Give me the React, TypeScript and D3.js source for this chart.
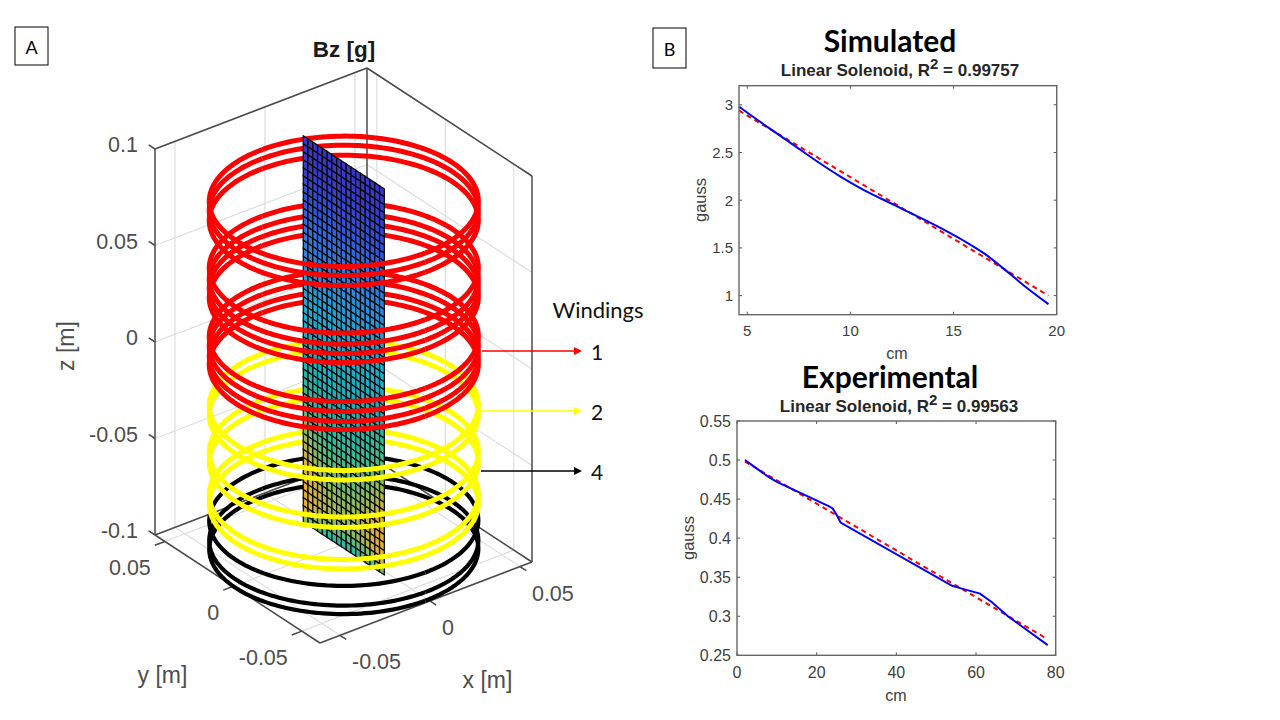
import React, { useEffect, useRef } from 'react';
import * as d3 from 'd3';

// panel A: 3D view of the windings
const xTicks3d = [-0.05, 0, 0.05];
const yTicks3d = [-0.05, 0, 0.05];
const zTicks3d = [-0.1, -0.05, 0, 0.05, 0.1];
const xLimits = [-0.0611, 0.0567];
const yLimits = [-0.0633, 0.0572];
const zLimits = [-0.1, 0.1];

const ringRadius = 0.0595;
const ringCenter = [-0.002, -0.003];
const redTurns = [0.0798, 0.0751, 0.0699, 0.0453, 0.0396, 0.0347, 0.03, 0.0098, 0.0047, -0.0005, -0.0047];
const yellowTurns = [-0.0259, -0.0308, -0.05, -0.0554, -0.072, -0.0769];
const blackTurns = [-0.0857, -0.0959, -0.1003];

// field on the plate, normalised 0..1, read top row to bottom row
const plateRows = [
  0.02, 0.03, 0.04, 0.05, 0.06, 0.08, 0.1, 0.12, 0.14, 0.17, 0.2, 0.22,
  0.24, 0.26, 0.28, 0.3, 0.32, 0.34, 0.36, 0.38, 0.4, 0.42, 0.43, 0.45,
  0.46, 0.47, 0.49, 0.5, 0.52, 0.53, 0.55, 0.57, 0.58, 0.6, 0.61, 0.63,
  0.65, 0.67, 0.69, 0.71, 0.73, 0.75, 0.77, 0.78, 0.78, 0.76, 0.7, 0.62,
];
// how much hotter the plate edges are than its centre, per row
const plateEdgeGain = [
  0, 0, 0, 0, 0, 0, 0, 0, 0, 0, 0, 0,
  0.01, 0.01, 0.01, 0.01, 0.01, 0.02, 0.02, 0.02, 0.02, 0.02, 0.03, 0.03,
  0.03, 0.03, 0.04, 0.04, 0.05, 0.05, 0.06, 0.06, 0.07, 0.08, 0.09, 0.1,
  0.11, 0.12, 0.13, 0.14, 0.15, 0.16, 0.17, 0.18, 0.18, 0.18, 0.16, 0.14,
];
const plateColumns = [1, 0.8, 0.55, 0.35, 0.2, 0.1, 0.04, 0, 0, 0, 0.04, 0.1, 0.2, 0.35, 0.55, 0.8, 1];
const plateHalfWidth = 0.0296;
const fieldStops = ['#3a2fc4', '#2f5ae0', '#2e86e0', '#1fa8d6', '#1db2b8', '#3fba90', '#88bc62', '#cfb048', '#f5a92e'];
const fieldDomain = [0, 0.15, 0.3, 0.42, 0.55, 0.66, 0.76, 0.86, 1];

// panel B top: simulated
const simCm = [4.6, 5.5, 6.5, 7.5, 8.5, 9.5, 10.5, 11.5, 12.5, 13.5, 14.5, 15.5, 16.5, 17.5, 18.5, 19.6];
const simGauss = [2.98, 2.84, 2.69, 2.54, 2.39, 2.25, 2.125, 2.015, 1.91, 1.805, 1.695, 1.575, 1.44, 1.27, 1.09, 0.91];
const simFitCm = [4.6, 19.6];
const simFitGauss = [2.94, 1.0];
const simXTicks = [5, 10, 15, 20];
const simYTicks = [1, 1.5, 2, 2.5, 3];

// panel B bottom: experimental
const expCm = [2, 5, 8, 10, 23, 24, 25, 26, 54, 56, 61, 64, 68, 78];
const expGauss = [0.5, 0.489, 0.478, 0.472, 0.441, 0.438, 0.43, 0.42, 0.339, 0.336, 0.329, 0.318, 0.3, 0.263];
const expFitCm = [2, 78];
const expFitGauss = [0.498, 0.2705];
const expXTicks = [0, 20, 40, 60, 80];
const expYTicks = [0.25, 0.3, 0.35, 0.4, 0.45, 0.5, 0.55];

const windingLabels = [
  { label: '1', color: '#ff0000', y: 351, x0: 482 },
  { label: '2', color: '#ffff00', y: 411, x0: 482 },
  { label: '4', color: '#000000', y: 471, x0: 481 },
];

const sans = '"Liberation Sans", Arial, sans-serif';
const calibri = 'Lato, "Open Sans", sans-serif';
const tick3d = (t) => d3.format('.2~f')(t).replace('\u2212', '-');

function drawPanelA(svg) {
  // box corners on screen
  const L = [155, 535];
  const F = [320, 643];
  const R = [532, 562];
  const zHeight = 386;

  const fx = d3.scaleLinear().domain(xLimits).range([0, 1]);
  const fy = d3.scaleLinear().domain([yLimits[1], yLimits[0]]).range([0, 1]);
  const pz = d3.scaleLinear().domain(zLimits).range([0, -zHeight]);

  const project = (x, y, z) => [
    L[0] + fy(y) * (F[0] - L[0]) + fx(x) * (R[0] - F[0]),
    L[1] + fy(y) * (F[1] - L[1]) + fx(x) * (R[1] - F[1]) + pz(z),
  ];

  const [x0, x1] = xLimits;
  const [y0, y1] = yLimits;
  const [z0, z1] = zLimits;
  const seg = (g, a, b, color, w) =>
    g.append('line').attr('x1', a[0]).attr('y1', a[1]).attr('x2', b[0]).attr('y2', b[1])
      .attr('stroke', color).attr('stroke-width', w);

  // grid on the two back walls and the floor
  const grid = svg.append('g');
  const gridColor = '#dddddd';
  xTicks3d.forEach((t) => {
    seg(grid, project(t, y1, z0), project(t, y1, z1), gridColor, 1.2);
    seg(grid, project(t, y0, z0), project(t, y1, z0), gridColor, 1.2);
  });
  yTicks3d.forEach((t) => {
    seg(grid, project(x1, t, z0), project(x1, t, z1), gridColor, 1.2);
    seg(grid, project(x0, t, z0), project(x1, t, z0), gridColor, 1.2);
  });
  zTicks3d.forEach((t) => {
    seg(grid, project(x0, y1, t), project(x1, y1, t), gridColor, 1.2);
    seg(grid, project(x1, y1, t), project(x1, y0, t), gridColor, 1.2);
  });

  // box
  const box = svg.append('g');
  const boxColor = '#4a4a4a';
  seg(box, project(x0, y1, z0), project(x0, y1, z1), boxColor, 1.5);
  seg(box, project(x1, y1, z0), project(x1, y1, z1), boxColor, 1.5);
  seg(box, project(x1, y0, z0), project(x1, y0, z1), boxColor, 1.5);
  seg(box, project(x0, y1, z1), project(x1, y1, z1), boxColor, 1.5);
  seg(box, project(x1, y1, z1), project(x1, y0, z1), boxColor, 1.5);
  seg(box, project(x0, y1, z0), project(x1, y1, z0), boxColor, 1.5);
  seg(box, project(x1, y1, z0), project(x1, y0, z0), boxColor, 1.5);
  seg(box, project(x0, y1, z0), project(x0, y0, z0), boxColor, 1.5);
  seg(box, project(x0, y0, z0), project(x1, y0, z0), boxColor, 1.5);

  // ticks
  const a = [(R[0] - F[0]) / 21, (R[1] - F[1]) / 21];
  const b = [(F[0] - L[0]) / 21, (F[1] - L[1]) / 21];
  yTicks3d.forEach((t) => {
    const p = project(x0, t, z0);
    seg(box, p, [p[0] - a[0], p[1] - a[1]], boxColor, 1.5);
    box.append('text').attr('x', p[0] - 14).attr('y', p[1] + 27).attr('text-anchor', 'end')
      .attr('dominant-baseline', 'central').attr('font-family', sans).attr('font-size', 21.5)
      .attr('fill', '#4d4d4d').text(tick3d(t));
  });
  xTicks3d.forEach((t) => {
    const p = project(t, y0, z0);
    seg(box, p, [p[0] + b[0] * 0.8, p[1] + b[1] * 0.8], boxColor, 1.5);
    box.append('text').attr('x', p[0] + 12).attr('y', p[1] + 27).attr('text-anchor', 'start')
      .attr('dominant-baseline', 'central').attr('font-family', sans).attr('font-size', 21.5)
      .attr('fill', '#4d4d4d').text(tick3d(t));
  });
  zTicks3d.forEach((t) => {
    const p = project(x0, y1, t);
    seg(box, p, [p[0] - b[0] * 0.8, p[1] - b[1] * 0.8], boxColor, 1.5);
    box.append('text').attr('x', 138).attr('y', p[1] - 4).attr('text-anchor', 'end')
      .attr('dominant-baseline', 'central').attr('font-family', sans).attr('font-size', 21.5)
      .attr('fill', '#4d4d4d').text(tick3d(t));
  });

  // windings, rear half goes under the plate, front half over it
  const angle = d3.scaleLinear().domain([0, 90]).range([0, Math.PI]);
  const flatten = 0.97;
  const ringLine = (z) => {
    const mid = project(ringCenter[0], ringCenter[1], z);
    return d3.line()
      .x((d) => project(ringCenter[0] + ringRadius * Math.cos(angle(d)), ringCenter[1] + ringRadius * Math.sin(angle(d)), z)[0])
      .y((d) => mid[1] + flatten * (project(ringCenter[0] + ringRadius * Math.cos(angle(d)), ringCenter[1] + ringRadius * Math.sin(angle(d)), z)[1] - mid[1]));
  };
  const rearSteps = d3.range(-45, 46);
  const frontSteps = d3.range(45, 136);
  const windings = [
    { turns: blackTurns, color: '#000000', w: 4.2 },
    { turns: yellowTurns, color: '#ffff00', w: 5 },
    { turns: redTurns, color: '#ff0000', w: 5 },
  ];
  const drawHalf = (steps) => {
    const g = svg.append('g').attr('fill', 'none');
    windings.forEach((w) => {
      w.turns.forEach((z) => {
        g.append('path').attr('d', ringLine(z)(steps)).attr('stroke', w.color).attr('stroke-width', w.w);
      });
    });
  };
  drawHalf(rearSteps);

  // the plate
  const color = d3.scaleLinear().domain(fieldDomain).range(fieldStops).clamp(true);
  const rowZ = d3.scaleLinear().domain([0, plateRows.length]).range([z1, z0]);
  const colY = d3.scaleLinear().domain([0, plateColumns.length])
    .range([ringCenter[1] + plateHalfWidth, ringCenter[1] - plateHalfWidth]);
  const plate = svg.append('g');
  plateRows.forEach((rowValue, r) => {
    plateColumns.forEach((edge, c) => {
      const corners = [
        project(ringCenter[0], colY(c), rowZ(r)),
        project(ringCenter[0], colY(c + 1), rowZ(r)),
        project(ringCenter[0], colY(c + 1), rowZ(r + 1)),
        project(ringCenter[0], colY(c), rowZ(r + 1)),
      ];
      plate.append('path')
        .attr('d', d3.line()(corners) + 'Z')
        .attr('fill', color(rowValue + edge * plateEdgeGain[r]))
        .attr('stroke', '#0a0a0a')
        .attr('stroke-width', 1.25);
    });
  });

  drawHalf(frontSteps);
}

function drawLinePanel(svg, cfg) {
  const x = d3.scaleLinear().domain(cfg.xDomain).range([cfg.left, cfg.right]);
  const y = d3.scaleLinear().domain(cfg.yDomain).range([cfg.bottom, cfg.top]);
  const g = svg.append('g');
  const frameColor = '#666666';
  const tickColor = '#555555';
  const textColor = '#404040';

  cfg.xTicks.forEach((t) => {
    g.append('line').attr('x1', x(t)).attr('x2', x(t)).attr('y1', cfg.bottom).attr('y2', cfg.bottom - 3).attr('stroke', tickColor);
    g.append('line').attr('x1', x(t)).attr('x2', x(t)).attr('y1', cfg.top).attr('y2', cfg.top + 3).attr('stroke', tickColor);
    g.append('text').attr('x', x(t)).attr('y', cfg.bottom + cfg.xLabelGap).attr('text-anchor', 'middle')
      .attr('dominant-baseline', 'central').attr('font-family', sans).attr('font-size', cfg.tickSize)
      .attr('fill', textColor).text(String(t));
  });
  cfg.yTicks.forEach((t) => {
    g.append('line').attr('x1', cfg.left).attr('x2', cfg.left + 3).attr('y1', y(t)).attr('y2', y(t)).attr('stroke', tickColor);
    g.append('line').attr('x1', cfg.right).attr('x2', cfg.right - 3).attr('y1', y(t)).attr('y2', y(t)).attr('stroke', tickColor);
    g.append('text').attr('x', cfg.left - 6).attr('y', y(t)).attr('text-anchor', 'end')
      .attr('dominant-baseline', 'central').attr('font-family', sans).attr('font-size', cfg.tickSize)
      .attr('fill', textColor).text(String(t));
  });

  const line = d3.line().x((d) => x(d[0])).y((d) => y(d[1]));
  g.append('path').attr('d', line(d3.zip(cfg.fitX, cfg.fitY))).attr('fill', 'none')
    .attr('stroke', '#ff0000').attr('stroke-width', 2).attr('stroke-dasharray', '5 4');
  g.append('path').attr('d', line.curve(cfg.curve)(d3.zip(cfg.dataX, cfg.dataY))).attr('fill', 'none')
    .attr('stroke', '#0000ff').attr('stroke-width', 2);

  g.append('rect').attr('x', cfg.left).attr('y', cfg.top).attr('width', cfg.right - cfg.left)
    .attr('height', cfg.bottom - cfg.top).attr('fill', 'none').attr('stroke', frameColor).attr('stroke-width', 1.4);

  g.append('text').attr('x', cfg.xLabelPos[0]).attr('y', cfg.xLabelPos[1]).attr('text-anchor', 'middle')
    .attr('dominant-baseline', 'central').attr('font-family', sans).attr('font-size', 16)
    .attr('fill', textColor).text('cm');
  g.append('text').attr('transform', `translate(${cfg.yLabelPos[0]},${cfg.yLabelPos[1]}) rotate(-90)`)
    .attr('text-anchor', 'middle').attr('dominant-baseline', 'central').attr('font-family', sans).attr('font-size', 16.5)
    .attr('fill', textColor).text('gauss');

  g.append('text').attr('x', cfg.titleX).attr('y', cfg.titleY).attr('text-anchor', 'middle')
    .attr('font-family', calibri).attr('font-weight', 700).attr('font-size', 30).attr('fill', '#000').text(cfg.title);
  const sub = g.append('text').attr('x', cfg.subX).attr('y', cfg.subY).attr('text-anchor', 'middle')
    .attr('font-family', sans).attr('font-weight', 700).attr('font-size', 17).attr('fill', '#262626');
  sub.append('tspan').text('Linear Solenoid, R');
  sub.append('tspan').attr('dy', -7).attr('font-size', 15).text('2');
  sub.append('tspan').attr('dy', 7).text(' = ' + cfg.r2);
}

function drawNotes(svg) {
  const labelBox = (x, y, w, h, s) => {
    svg.append('rect').attr('x', x).attr('y', y).attr('width', w).attr('height', h)
      .attr('fill', '#fff').attr('stroke', '#000').attr('stroke-width', 1);
    svg.append('text').attr('x', x + w / 2).attr('y', y + h / 2 + 1).attr('text-anchor', 'middle')
      .attr('dominant-baseline', 'central').attr('font-family', calibri).attr('font-size', 18).attr('fill', '#000').text(s);
  };
  labelBox(15, 27, 33, 38, 'A');
  labelBox(653, 28, 33, 40, 'B');

  svg.append('text').attr('x', 344).attr('y', 57).attr('text-anchor', 'middle')
    .attr('font-family', sans).attr('font-weight', 700).attr('font-size', 22.5).attr('fill', '#1a1a1a').text('Bz [g]');

  const axisLabel = { 'font-family': sans, 'font-size': 23, fill: '#4d4d4d' };
  const addLabel = (s, transform) => {
    const t = svg.append('text').attr('transform', transform).attr('text-anchor', 'middle').attr('dominant-baseline', 'central').text(s);
    Object.entries(axisLabel).forEach(([k, v]) => t.attr(k, v));
  };
  addLabel('z [m]', 'translate(66,346) rotate(-90)');
  addLabel('y [m]', 'translate(162.5,675)');
  addLabel('x [m]', 'translate(487.5,680)');

  svg.append('text').attr('x', 598).attr('y', 309).attr('text-anchor', 'middle')
    .attr('dominant-baseline', 'central').attr('font-family', calibri).attr('font-size', 22).attr('fill', '#111').text('Windings');

  windingLabels.forEach((d) => {
    svg.append('line').attr('x1', d.x0).attr('x2', 576).attr('y1', d.y).attr('y2', d.y)
      .attr('stroke', d.color).attr('stroke-width', 1.7);
    svg.append('path').attr('d', d3.line()([[574, d.y - 4], [582, d.y], [574, d.y + 4]]) + 'Z').attr('fill', d.color);
    svg.append('text').attr('x', 597).attr('y', d.y).attr('text-anchor', 'middle')
      .attr('dominant-baseline', 'central').attr('font-family', calibri).attr('font-size', 21).attr('fill', '#111').text(d.label);
  });
}

export default function App() {
  const ref = useRef(null);

  useEffect(() => {
    const svg = d3.select(ref.current);
    svg.selectAll('*').remove();
    drawPanelA(svg);
    drawLinePanel(svg, {
      left: 739, right: 1056.7, top: 85.7, bottom: 314.7,
      xDomain: [4.6, 20], yDomain: [0.8, 3.2],
      xTicks: simXTicks, yTicks: simYTicks, curve: d3.curveMonotoneX,
      dataX: simCm, dataY: simGauss, fitX: simFitCm, fitY: simFitGauss,
      tickSize: 15, xLabelGap: 16, xLabelPos: [897, 353], yLabelPos: [700, 200],
      title: 'Simulated', titleX: 890, titleY: 52, subX: 900, subY: 76, r2: '0.99757',
    });
    drawLinePanel(svg, {
      left: 737, right: 1055.7, top: 421, bottom: 655.3,
      xDomain: [0, 80], yDomain: [0.25, 0.55],
      xTicks: expXTicks, yTicks: expYTicks, curve: d3.curveLinear,
      dataX: expCm, dataY: expGauss, fitX: expFitCm, fitY: expFitGauss,
      tickSize: 16, xLabelGap: 17, xLabelPos: [896, 695], yLabelPos: [688, 538],
      title: 'Experimental', titleX: 890, titleY: 388, subX: 899, subY: 412, r2: '0.99563',
    });
    drawNotes(svg);
  }, []);

  return (
    <svg ref={ref} width={1280} height={720} style={{ position: 'absolute', left: 0, top: 0, background: '#fff' }} />
  );
}
